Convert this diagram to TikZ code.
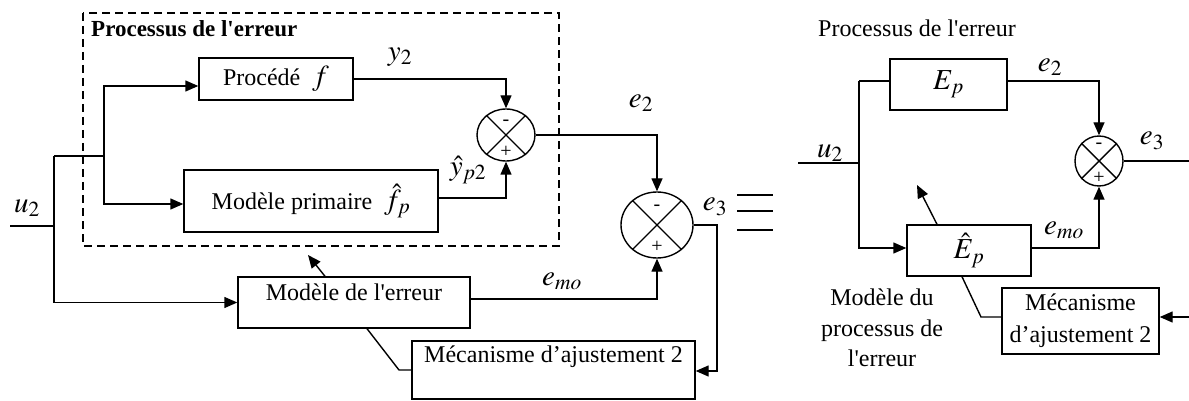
\documentclass[tikz,border=0pt]{standalone}
\usepackage{mathptmx}
\usepackage{fontspec}
\setmainfont{Liberation Serif}
\usetikzlibrary{arrows.meta,calc,shapes.geometric}
\newcommand\myfs{\fontsize{24}{30.5}\selectfont}
\newcommand\mytf{\fontsize{23}{28}\selectfont}
\newcommand\mymf{\fontsize{29}{32}\selectfont}
\newcommand\mysg{\fontsize{20}{22}\selectfont}
\tikzset{
  box/.style={draw, line width=1.4pt, inner sep=0pt, font=\myfs, align=center},
  lbl/.style={inner sep=0pt, font=\myfs, align=center},
  mlbl/.style={inner sep=0pt, font=\mymf},
  sgn/.style={inner sep=0pt, font=\mysg},
  ln/.style={line width=1.4pt},
  arr/.style={line width=1.4pt, -{Triangle[length=13pt,width=11pt]}},
  sumj/.style={draw, ellipse, line width=1.4pt, inner sep=0pt},
}
\begin{document}
\begin{tikzpicture}[x=1pt,y=-1pt]
\useasboundingbox (0,0) rectangle (1189,401);
% ---------------- left diagram ----------------
\draw[line width=1.3pt, dash pattern=on 8pt off 5pt] (83,13) rectangle (559,246);
\node[lbl, anchor=west, font=\mytf\bfseries] (title1) at (91,29) {Processus de l\textquotesingle erreur};
\node[box, minimum width=154pt, minimum height=42pt] (proc) at (276,79) {Procédé\ \ {\mymf$f$}};
\node[box, minimum width=254pt, minimum height=62pt] (modprim) at (311,201) {Modèle primaire\ \ {\mymf$\hat{f}_p$}};
\node[box, minimum width=232pt, minimum height=51pt] (moderr) at (354,302.5) {};
\node[lbl] (moderrt) at (354,292) {Modèle de l\textquotesingle erreur};
\node[box, minimum width=283pt, minimum height=58pt] (meca) at (553.5,370) {};
\node[lbl] (mecat) at (553.5,357) {Mécanisme d’ajustement 2};
\node[sumj, minimum width=58pt, minimum height=52pt] (s1) at (506,135) {};
\draw[ln] (s1.45) -- (s1.225) (s1.135) -- (s1.315);
\node[sgn] (s1m) at ($(s1.center)+(0,-12)$) {-};
\node[sgn] (s1p) at ($(s1.center)+(0,17)$) {+};
\node[sumj, minimum width=72pt, minimum height=66pt] (s2) at (657,225) {};
\draw[ln] (s2.45) -- (s2.225) (s2.135) -- (s2.315);
\node[sgn] (s2m) at ($(s2.center)+(0,-17)$) {-};
\node[sgn] (s2p) at ($(s2.center)+(0,22)$) {+};
% labels
\node[mlbl] (u2l) at (27,208) {$u_2$};
\node[mlbl] (y2l) at (400,57) {$y_2$};
\node[mlbl] (yhl) at (468,170) {$\hat{y}_{p2}$};
\node[mlbl] (e2l) at (641,103) {$e_2$};
\node[mlbl] (e3l) at (715,207) {$e_3$};
\node[mlbl] (emol) at (562,281) {$e_{mo}$};
% connectors
\coordinate (uin) at (10,226);
\coordinate (j1) at (54,226);
\coordinate (j1t) at (54,156);
\coordinate (j2) at (104,156);
\draw[ln] (uin) -- (j1);
\draw[ln] (j1t) -- (j2);
\draw[arr] (j1t) |- (moderr.west);
\draw[arr] (j2) |- ([yshift=-7pt]proc.west);
\draw[arr] (j2) |- ([yshift=-3pt]modprim.west);
\draw[arr] (proc.east) -| (s1.north);
\draw[arr] ([yshift=3pt]modprim.east) -| (s1.south);
\draw[arr] (s1.east) -| (s2.north);
\draw[arr] ([yshift=3.5pt]moderr.east) -| (s2.south);
\coordinate (fb) at (717,225);
\draw[arr] (s2.east) -- (fb) |- ([yshift=-1pt]meca.east);
\coordinate (d1) at (399,370);
\draw[ln] ([xshift=13pt]moderr.south) -- (d1) -- (meca.west);
\coordinate (a1) at (308,255);
\draw[arr] ([xshift=-29pt]moderr.north) -- (a1);
% equivalence
\draw[ln] (737,195) -- (773,195) (737,211) -- (773,211) (737,230) -- (773,230);
% ---------------- right diagram ----------------
\node[lbl] (title2) at (917,28) {Processus de l\textquotesingle erreur};
\node[box, minimum width=117pt, minimum height=51pt, font=\mymf] (Ep) at (948.5,84.5) {$E_p$};
\node[box, minimum width=124pt, minimum height=51pt, font=\mymf] (Eh) at (969,250.5) {$\hat{E}_p$};
\node[box, minimum width=157pt, minimum height=66pt, font=\fontsize{24}{32}\selectfont] (meca2) at (1080.5,321) {Mécanisme\\d’ajustement 2};
\node[lbl] (mdp) at (882,328) {Modèle du\\processus de\\l\textquotesingle erreur};
\node[sumj, minimum width=48pt, minimum height=50pt] (s3) at (1099,161) {};
\draw[ln] (s3.45) -- (s3.225) (s3.135) -- (s3.315);
\node[sgn] (s3m) at ($(s3.center)+(0,-15)$) {-};
\node[sgn] (s3p) at ($(s3.center)+(0,17)$) {+};
\node[mlbl] (u2r) at (830,153) {$u_2$};
\node[mlbl] (e2r) at (1050,67) {$e_2$};
\node[mlbl] (e3r) at (1152,141) {$e_3$};
\node[mlbl] (emor) at (1064,230) {$e_{mo}$};
\coordinate (ru) at (798,163);
\coordinate (rj) at (859,163);
\coordinate (rt) at (859,81);
\draw[ln] (ru) -- (rj);
\draw[ln] (rt) -- ([yshift=3.5pt]Ep.west);
\draw[arr] (rt) |- ([yshift=2.5pt]Eh.west);
\draw[arr] ([yshift=3.5pt]Ep.east) -| (s3.north);
\draw[arr] ([yshift=2.5pt]Eh.east) -| (s3.south);
\coordinate (rout) at (1189,161);
\draw[ln] (s3.east) -- (rout);
\coordinate (rin) at (1189,317);
\draw[arr] (rin) -- (meca2.east |- rin);
\coordinate (d2) at (981,317);
\draw[ln] ([xshift=-7pt]Eh.south) -- (d2) -- (meca2.west |- d2);
\coordinate (a2) at (917,185);
\draw[arr] ([xshift=-32pt]Eh.north) -- (a2);
\end{tikzpicture}
\end{document}
